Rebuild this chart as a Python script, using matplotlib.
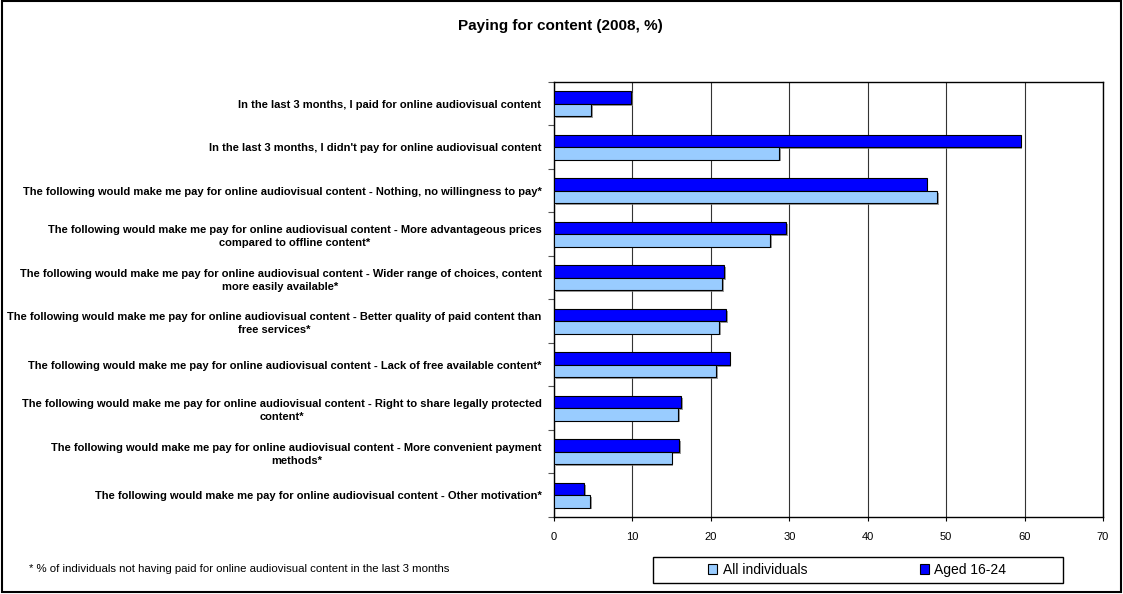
import matplotlib
matplotlib.use('Agg')
import matplotlib.pyplot as plt
import matplotlib.patheffects as pe
from matplotlib.patches import Rectangle
from matplotlib import font_manager as fm
import numpy as np

title = "Paying for content (2008, %)"
categories = [
    "In the last 3 months, I paid for online audiovisual content",
    "In the last 3 months, I didn't pay for online audiovisual content",
    "The following would make me pay for online audiovisual content - Nothing, no willingness to pay*",
    "The following would make me pay for online audiovisual content - More advantageous prices\ncompared to offline content*",
    "The following would make me pay for online audiovisual content - Wider range of choices, content\nmore easily available*",
    "The following would make me pay for online audiovisual content - Better quality of paid content than\nfree services*",
    "The following would make me pay for online audiovisual content - Lack of free available content*",
    "The following would make me pay for online audiovisual content - Right to share legally protected\ncontent*",
    "The following would make me pay for online audiovisual content - More convenient payment\nmethods*",
    "The following would make me pay for online audiovisual content - Other motivation*",
]
all_individuals = [4.7, 28.7, 48.8, 27.6, 21.4, 21.1, 20.7, 15.8, 15.0, 4.6]
aged_16_24 = [9.8, 59.5, 47.5, 29.6, 21.7, 21.9, 22.4, 16.2, 15.9, 3.8]
series_names = ["All individuals", "Aged 16-24"]
x_ticks = [0, 10, 20, 30, 40, 50, 60, 70]
footnote = "* % of individuals not having paid for online audiovisual content in the last 3 months"

plt.rcParams['font.family'] = ['Liberation Sans', 'DejaVu Sans']
names = {f.name for f in fm.fontManager.ttflist}
has_narrow = 'Liberation Sans Narrow' in names

W, H = 1123, 594
fig = plt.figure(figsize=(W / 100, H / 100), dpi=100)
ax = fig.add_axes([554 / W, 1 - 517 / H, (1103 - 554) / W, (517 - 82) / H])

n = len(categories)
y = np.arange(n)
h = 0.285
shadow = [pe.SimplePatchShadow(offset=(1.3, -1.3), shadow_rgbFace='0.45', alpha=0.7), pe.Normal()]
ax.barh(y - h / 2, aged_16_24, height=h, color='#0000FF', edgecolor='black', linewidth=0.8,
        path_effects=shadow, zorder=3)
ax.barh(y + h / 2, all_individuals, height=h, color='#99CCFF', edgecolor='black', linewidth=0.8,
        path_effects=shadow, zorder=3)

ax.set_ylim(n - 0.5, -0.5)
ax.set_xlim(x_ticks[0], x_ticks[-1])
ax.set_xticks(x_ticks)
ax.set_xticklabels([str(t) for t in x_ticks], fontsize=8)
ax.tick_params(axis='x', direction='out', length=3, width=0.8, pad=8, colors='black')

ax.set_yticks(y)
ax.set_yticklabels(categories, fontsize=8, fontweight='bold')
for t in ax.get_yticklabels():
    t.set_multialignment('center')
    t.set_linespacing(1.35)
ax.tick_params(axis='y', which='major', length=0, pad=9)
ax.set_yticks(np.arange(n + 1) - 0.5, minor=True)
ax.tick_params(axis='y', which='minor', length=4, width=0.8, color='#555555', direction='out')

ax.set_axisbelow(True)
ax.xaxis.grid(True, color='#333333', linewidth=0.8)
for s in ax.spines.values():
    s.set_color('black')
    s.set_linewidth(1.0)

fig.text(560 / W, 1 - 26 / H, title, ha='center', va='center', fontsize=11, fontweight='bold')

if has_narrow:
    fig.text(29 / W, 1 - 569 / H, footnote, ha='left', va='center', fontsize=9.5,
             family=['Liberation Sans Narrow', 'Liberation Sans'])
else:
    fig.text(29 / W, 1 - 569 / H, footnote, ha='left', va='center', fontsize=8.2)

# legend frame
fig.patches.append(Rectangle((653 / W, 1 - 583 / H), 410 / W, 26 / H, transform=fig.transFigure,
                             facecolor='white', edgecolor='black', linewidth=1.0, zorder=1))
handles = [Rectangle((0, 0), 1, 1, facecolor='#99CCFF', edgecolor='black', linewidth=0.8),
           Rectangle((0, 0), 1, 1, facecolor='#0000FF', edgecolor='black', linewidth=0.8)]
fig.legend(handles, series_names, loc='center left', bbox_to_anchor=(708 / W, 1 - 570 / H),
           ncol=2, frameon=False, fontsize=10, handlelength=0.65, handleheight=0.65,
           handletextpad=0.41, columnspacing=8.1, borderpad=0, borderaxespad=0)

# outer border
fig.patches.append(Rectangle((1.5 / W, 2.5 / H), (1120.5 - 1.5) / W, (593 - 2.5) / H,
                             transform=fig.transFigure, facecolor='none', edgecolor='black',
                             linewidth=1.5, zorder=0))

fig.savefig('out.png', dpi=100)
